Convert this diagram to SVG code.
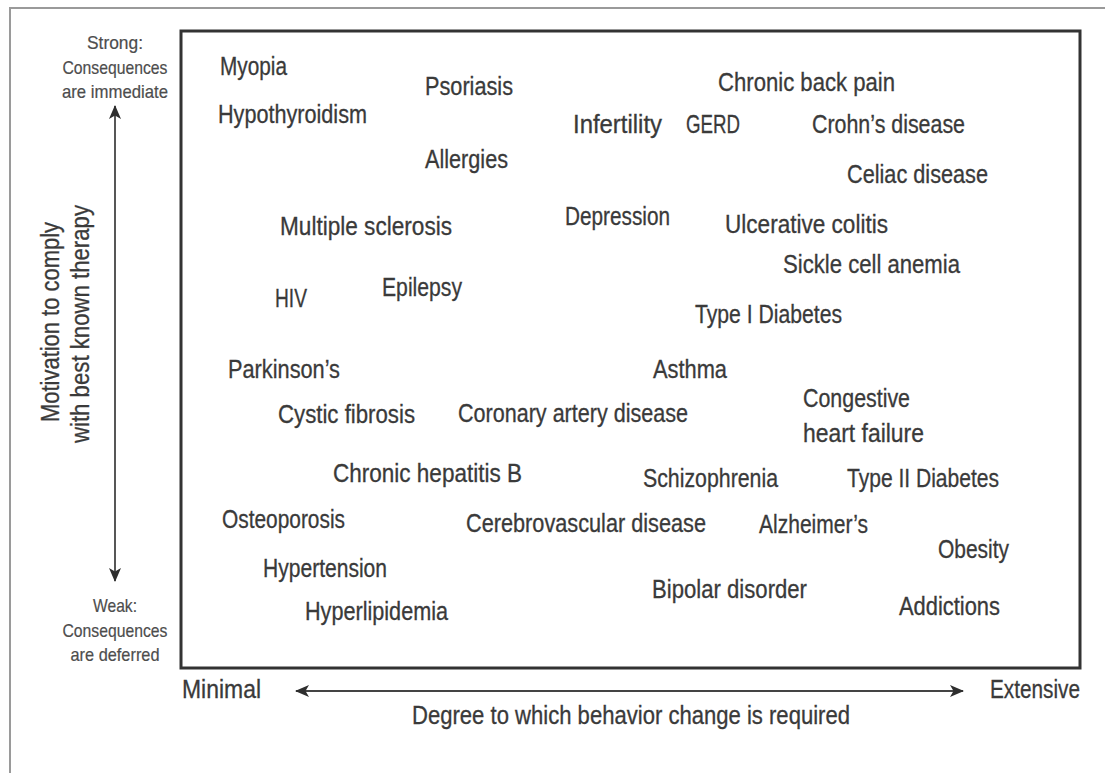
<svg xmlns="http://www.w3.org/2000/svg" width="1105" height="773" viewBox="0 0 1105 773">
  <style>
    .lbl { font-family: "Liberation Sans Narrow", "Liberation Sans", Arial, sans-serif; font-size: 25px; fill: #3a3a3a; stroke: #3a3a3a; stroke-width: 0.3; }
    .small { font-family: "Liberation Sans Narrow", "Liberation Sans", Arial, sans-serif; font-size: 19px; fill: #4d4d4d; stroke: #4d4d4d; stroke-width: 0.2; text-anchor: middle; }
    .axis { stroke: #444; stroke-width: 1.8; fill: none; }
  </style>
  <defs>
    <marker id="head" viewBox="0 0 14 12" refX="13" refY="6" markerWidth="14" markerHeight="12" markerUnits="userSpaceOnUse" orient="auto-start-reverse">
      <path d="M0,0 L14,6 L0,12 L3.5,6 Z" fill="#2e2e2e"/>
    </marker>
  </defs>

  <rect width="1105" height="773" fill="#fff"/>

  <!-- frame -->
  <g id="frame">
    <path d="M10,773 L10,8 L1105,8" fill="none" stroke="#9a9a9a" stroke-width="2"/>
    <rect x="181" y="31" width="899" height="637" fill="none" stroke="#333" stroke-width="3"/>
  </g>

  <!-- axes -->
  <g id="connectors">
    <line class="axis" x1="115" y1="106" x2="115" y2="581" marker-start="url(#head)" marker-end="url(#head)"/>
    <line class="axis" x1="296" y1="691" x2="963" y2="691" marker-start="url(#head)" marker-end="url(#head)"/>
  </g>

  <!-- axis captions -->
  <g id="y-axis-labels">
    <text class="small" x="115" y="49" textLength="56" lengthAdjust="spacingAndGlyphs">Strong:</text>
    <text class="small" x="115" y="74" textLength="105" lengthAdjust="spacingAndGlyphs">Consequences</text>
    <text class="small" x="115" y="98" textLength="106" lengthAdjust="spacingAndGlyphs">are immediate</text>
    <text class="small" x="115" y="612" textLength="44" lengthAdjust="spacingAndGlyphs">Weak:</text>
    <text class="small" x="115" y="637" textLength="105" lengthAdjust="spacingAndGlyphs">Consequences</text>
    <text class="small" x="115" y="661" textLength="89" lengthAdjust="spacingAndGlyphs">are deferred</text>
    <text class="lbl" transform="translate(59,322) rotate(-90)" text-anchor="middle" textLength="200" lengthAdjust="spacingAndGlyphs">Motivation to comply</text>
    <text class="lbl" transform="translate(89,324) rotate(-90)" text-anchor="middle" textLength="238" lengthAdjust="spacingAndGlyphs">with best known therapy</text>
  </g>
  <g id="x-axis-labels">
    <text class="lbl" x="182" y="698" textLength="79" lengthAdjust="spacingAndGlyphs">Minimal</text>
    <text class="lbl" x="990" y="698" textLength="90" lengthAdjust="spacingAndGlyphs">Extensive</text>
    <text class="lbl" x="412" y="724" textLength="438" lengthAdjust="spacingAndGlyphs">Degree to which behavior change is required</text>
  </g>

  <!-- conditions -->
  <g id="myopia"><text class="lbl" x="220" y="75" textLength="67" lengthAdjust="spacingAndGlyphs">Myopia</text></g>
  <g id="psoriasis"><text class="lbl" x="425" y="95" textLength="88" lengthAdjust="spacingAndGlyphs">Psoriasis</text></g>
  <g id="chronic-back-pain"><text class="lbl" x="718" y="91" textLength="177" lengthAdjust="spacingAndGlyphs">Chronic back pain</text></g>
  <g id="hypothyroidism"><text class="lbl" x="218" y="123" textLength="149" lengthAdjust="spacingAndGlyphs">Hypothyroidism</text></g>
  <g id="infertility"><text class="lbl" x="573" y="133" textLength="89" lengthAdjust="spacingAndGlyphs">Infertility</text></g>
  <g id="gerd"><text class="lbl" x="686" y="133" textLength="54" lengthAdjust="spacingAndGlyphs">GERD</text></g>
  <g id="crohns"><text class="lbl" x="812" y="133" textLength="153" lengthAdjust="spacingAndGlyphs">Crohn’s disease</text></g>
  <g id="allergies"><text class="lbl" x="425" y="168" textLength="83" lengthAdjust="spacingAndGlyphs">Allergies</text></g>
  <g id="celiac"><text class="lbl" x="847" y="183" textLength="141" lengthAdjust="spacingAndGlyphs">Celiac disease</text></g>
  <g id="depression"><text class="lbl" x="565" y="225" textLength="105" lengthAdjust="spacingAndGlyphs">Depression</text></g>
  <g id="ulcerative-colitis"><text class="lbl" x="725" y="233" textLength="163" lengthAdjust="spacingAndGlyphs">Ulcerative colitis</text></g>
  <g id="multiple-sclerosis"><text class="lbl" x="280" y="235" textLength="172" lengthAdjust="spacingAndGlyphs">Multiple sclerosis</text></g>
  <g id="sickle-cell"><text class="lbl" x="783" y="273" textLength="177" lengthAdjust="spacingAndGlyphs">Sickle cell anemia</text></g>
  <g id="epilepsy"><text class="lbl" x="382" y="296" textLength="80" lengthAdjust="spacingAndGlyphs">Epilepsy</text></g>
  <g id="hiv"><text class="lbl" x="275" y="307" textLength="32" lengthAdjust="spacingAndGlyphs">HIV</text></g>
  <g id="type1-diabetes"><text class="lbl" x="695" y="323" textLength="147" lengthAdjust="spacingAndGlyphs">Type I Diabetes</text></g>
  <g id="parkinsons"><text class="lbl" x="228" y="378" textLength="112" lengthAdjust="spacingAndGlyphs">Parkinson’s</text></g>
  <g id="asthma"><text class="lbl" x="653" y="378" textLength="74" lengthAdjust="spacingAndGlyphs">Asthma</text></g>
  <g id="congestive-heart-failure">
    <text class="lbl" x="803" y="407" textLength="107" lengthAdjust="spacingAndGlyphs">Congestive</text>
    <text class="lbl" x="803" y="442" textLength="121" lengthAdjust="spacingAndGlyphs">heart failure</text>
  </g>
  <g id="coronary-artery-disease"><text class="lbl" x="458" y="422" textLength="230" lengthAdjust="spacingAndGlyphs">Coronary artery disease</text></g>
  <g id="cystic-fibrosis"><text class="lbl" x="278" y="423" textLength="137" lengthAdjust="spacingAndGlyphs">Cystic fibrosis</text></g>
  <g id="chronic-hepatitis-b"><text class="lbl" x="333" y="482" textLength="189" lengthAdjust="spacingAndGlyphs">Chronic hepatitis B</text></g>
  <g id="schizophrenia"><text class="lbl" x="643" y="487" textLength="135" lengthAdjust="spacingAndGlyphs">Schizophrenia</text></g>
  <g id="type2-diabetes"><text class="lbl" x="847" y="487" textLength="152" lengthAdjust="spacingAndGlyphs">Type II Diabetes</text></g>
  <g id="osteoporosis"><text class="lbl" x="222" y="528" textLength="123" lengthAdjust="spacingAndGlyphs">Osteoporosis</text></g>
  <g id="cerebrovascular"><text class="lbl" x="466" y="532" textLength="240" lengthAdjust="spacingAndGlyphs">Cerebrovascular disease</text></g>
  <g id="alzheimers"><text class="lbl" x="759" y="533" textLength="109" lengthAdjust="spacingAndGlyphs">Alzheimer’s</text></g>
  <g id="obesity"><text class="lbl" x="938" y="558" textLength="71" lengthAdjust="spacingAndGlyphs">Obesity</text></g>
  <g id="hypertension"><text class="lbl" x="263" y="577" textLength="124" lengthAdjust="spacingAndGlyphs">Hypertension</text></g>
  <g id="bipolar"><text class="lbl" x="652" y="598" textLength="155" lengthAdjust="spacingAndGlyphs">Bipolar disorder</text></g>
  <g id="addictions"><text class="lbl" x="899" y="615" textLength="101" lengthAdjust="spacingAndGlyphs">Addictions</text></g>
  <g id="hyperlipidemia"><text class="lbl" x="305" y="620" textLength="143" lengthAdjust="spacingAndGlyphs">Hyperlipidemia</text></g>
</svg>
